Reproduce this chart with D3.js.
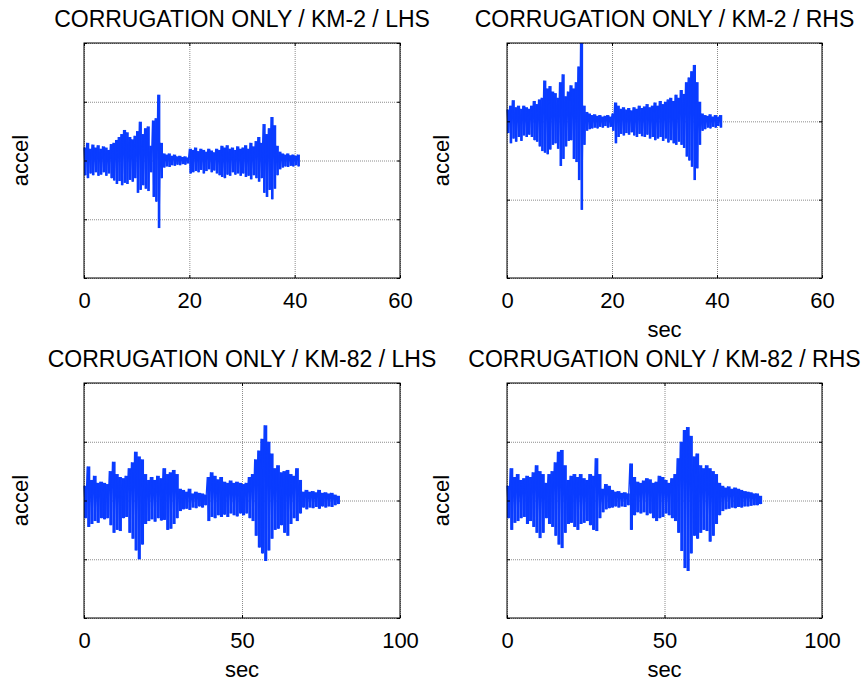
<!DOCTYPE html>
<html>
<head>
<meta charset="utf-8">
<script src="https://cdn.jsdelivr.net/npm/d3@7"></script>
<style>
	body { margin: 0; background: #fff; }
	text { font-family: Arial, "Liberation Sans", sans-serif; fill: #000; }
</style>
</head>
<body>
<script>
// Titles of the four panels
var titles = [
	'CORRUGATION ONLY / KM-2 / LHS',
	'CORRUGATION ONLY / KM-2 / RHS',
	'CORRUGATION ONLY / KM-82 / LHS',
	'CORRUGATION ONLY / KM-82 / RHS'
];

// Tick values
var xTicksKm2 = [0, 20, 40, 60];
var xTicksKm82 = [0, 50, 100];
var yTicksLhs2 = [-2, -1, 0, 1, 2];
var yTicksRhs2 = [-2, -1, 0, 1];
var yTicks82 = [-2, -1, 0, 1, 2];

// Sample step (sec) of the peak readings
var stepKm2 = 0.5;
var stepKm82 = 1;

// KM-2 / LHS, upper and lower peaks every 0.5 s (0 .. 40.5 s)
var km2LhsHi = [
	0.22, 0.3, 0.2, 0.27, 0.22, 0.26, 0.2, 0.24, 0.22, 0.18,
	0.28, 0.3, 0.35, 0.4, 0.45, 0.52, 0.48, 0.4, 0.36, 0.42,
	0.5, 0.66, 0.45, 0.55, 0.58, 0.25, 0.68, 0.72, 1.12, 0.3,
	0.12, 0.1, 0.12, 0.08, 0.1, 0.07, 0.08, 0.06, 0.07, 0.05,
	0.2, 0.18, 0.22, 0.16, 0.2, 0.18, 0.15, 0.2, 0.17, 0.14,
	0.2, 0.18, 0.25, 0.22, 0.26, 0.2, 0.22, 0.18, 0.24, 0.2,
	0.22, 0.26, 0.2, 0.3, 0.24, 0.33, 0.4, 0.3, 0.62, 0.45,
	0.55, 0.74, 0.6, 0.25, 0.15, 0.12, 0.1, 0.12, 0.09, 0.1,
	0.08, 0.1
];
var km2LhsLo = [
	-0.25, -0.3, -0.22, -0.25, -0.2, -0.26, -0.24, -0.2, -0.26, -0.22,
	-0.3, -0.34, -0.4, -0.35, -0.42, -0.38, -0.4, -0.33, -0.36, -0.3,
	-0.55, -0.5, -0.42, -0.48, -0.52, -0.2, -0.62, -0.7, -1.15, -0.3,
	-0.12, -0.1, -0.11, -0.08, -0.09, -0.07, -0.08, -0.06, -0.07, -0.05,
	-0.22, -0.2, -0.18, -0.2, -0.16, -0.22, -0.18, -0.15, -0.2, -0.17,
	-0.22, -0.25, -0.28, -0.3, -0.24, -0.26, -0.2, -0.24, -0.22, -0.26,
	-0.22, -0.28, -0.26, -0.32, -0.25, -0.3, -0.36, -0.3, -0.55, -0.62,
	-0.5, -0.66, -0.48, -0.25, -0.15, -0.12, -0.1, -0.11, -0.09, -0.1,
	-0.08, -0.1
];

// KM-2 / RHS
var km2RhsHi = [
	0.15, 0.2, 0.27, 0.18, 0.2, 0.16, 0.2, 0.18, 0.16, 0.2,
	0.26, 0.22, 0.28, 0.3, 0.52, 0.42, 0.45, 0.38, 0.36, 0.3,
	0.5, 0.6, 0.32, 0.38, 0.46, 0.42, 0.5, 0.7, 1.0, 0.2,
	0.12, 0.1, 0.08, 0.09, 0.07, 0.08, 0.06, 0.07, 0.08, 0.06,
	0.1, 0.24, 0.2, 0.16, 0.18, 0.15, 0.17, 0.14, 0.18, 0.16,
	0.2, 0.17, 0.19, 0.22, 0.18, 0.2, 0.24, 0.2, 0.26, 0.22,
	0.25, 0.28, 0.3, 0.26, 0.34, 0.3, 0.4, 0.35, 0.5, 0.56,
	0.64, 0.72, 0.5, 0.25, 0.1, 0.08, 0.07, 0.09, 0.06, 0.08,
	0.06, 0.08
];
var km2RhsLo = [
	-0.15, -0.28, -0.22, -0.26, -0.2, -0.25, -0.18, -0.2, -0.17, -0.2,
	-0.24, -0.26, -0.32, -0.38, -0.4, -0.42, -0.36, -0.3, -0.28, -0.35,
	-0.57, -0.48, -0.32, -0.25, -0.24, -0.48, -0.52, -0.75, -1.13, -0.3,
	-0.12, -0.1, -0.09, -0.08, -0.09, -0.07, -0.08, -0.06, -0.08, -0.07,
	-0.12, -0.28, -0.2, -0.16, -0.18, -0.15, -0.17, -0.14, -0.18, -0.2,
	-0.16, -0.19, -0.2, -0.17, -0.22, -0.2, -0.24, -0.22, -0.2, -0.25,
	-0.22, -0.27, -0.24, -0.28, -0.3, -0.26, -0.3, -0.34, -0.45, -0.5,
	-0.58, -0.75, -0.6, -0.3, -0.12, -0.1, -0.08, -0.09, -0.07, -0.08,
	-0.06, -0.08
];

// KM-82 / LHS, upper and lower peaks every 1 s (0 .. 80 s)
var km82LhsHi = [
	0.25, 0.58, 0.35, 0.42, 0.3, 0.32, 0.3, 0.28, 0.5, 0.66,
	0.45, 0.4, 0.38, 0.42, 0.55, 0.65, 0.83, 0.75, 0.7, 0.45,
	0.35, 0.4, 0.35, 0.42, 0.38, 0.55, 0.45, 0.48, 0.52, 0.45,
	0.2, 0.18, 0.15, 0.2, 0.12, 0.15, 0.13, 0.12, 0.1, 0.4,
	0.48, 0.42, 0.36, 0.4, 0.32, 0.3, 0.34, 0.3, 0.32, 0.3,
	0.28, 0.3, 0.4, 0.45, 0.7, 0.85, 1.05, 1.28, 1.0, 0.8,
	0.55, 0.6, 0.48, 0.5, 0.52, 0.45, 0.42, 0.55, 0.35, 0.15,
	0.18, 0.15, 0.16, 0.14, 0.18, 0.13, 0.14, 0.12, 0.13, 0.1,
	0.08
];
var km82LhsLo = [
	-0.3, -0.45, -0.4, -0.35, -0.38, -0.3, -0.32, -0.3, -0.42, -0.55,
	-0.5, -0.52, -0.3, -0.28, -0.55, -0.65, -0.85, -1.0, -0.75, -0.4,
	-0.35, -0.32, -0.36, -0.3, -0.34, -0.33, -0.5, -0.48, -0.4, -0.3,
	-0.18, -0.15, -0.14, -0.16, -0.12, -0.13, -0.1, -0.12, -0.08, -0.35,
	-0.28, -0.3, -0.25, -0.28, -0.24, -0.28, -0.22, -0.25, -0.27, -0.22,
	-0.25, -0.22, -0.3, -0.35, -0.6, -0.8, -0.9, -1.03, -0.85, -0.65,
	-0.5, -0.48, -0.42, -0.55, -0.6, -0.4, -0.3, -0.35, -0.22, -0.12,
	-0.15, -0.12, -0.13, -0.11, -0.14, -0.1, -0.12, -0.1, -0.11, -0.08,
	-0.06
];

// KM-82 / RHS
var km82RhsHi = [
	0.25, 0.55, 0.4, 0.45, 0.35, 0.38, 0.42, 0.4, 0.48, 0.6,
	0.5, 0.45, 0.3, 0.45, 0.5, 0.65, 0.83, 0.86, 0.6, 0.35,
	0.42, 0.45, 0.4, 0.45, 0.38, 0.35, 0.45, 0.42, 0.72, 0.45,
	0.2, 0.28, 0.25, 0.18, 0.15, 0.16, 0.13, 0.14, 0.12, 0.63,
	0.4, 0.32, 0.3, 0.34, 0.38, 0.36, 0.3, 0.32, 0.42, 0.4,
	0.35, 0.3, 0.38, 0.45, 0.72, 1.0, 1.2, 1.25, 1.1, 0.75,
	0.8, 0.6, 0.55, 0.6, 0.55, 0.5, 0.45, 0.3, 0.25, 0.22,
	0.24, 0.2, 0.22, 0.2, 0.18, 0.16, 0.15, 0.14, 0.12, 0.12,
	0.08
];
var km82RhsLo = [
	-0.3, -0.5, -0.38, -0.35, -0.3, -0.28, -0.4, -0.35, -0.45, -0.55,
	-0.64, -0.55, -0.3, -0.4, -0.45, -0.6, -0.75, -0.81, -0.55, -0.4,
	-0.38, -0.45, -0.5, -0.4, -0.38, -0.35, -0.42, -0.5, -0.52, -0.3,
	-0.2, -0.15, -0.13, -0.12, -0.1, -0.12, -0.1, -0.11, -0.08, -0.5,
	-0.25, -0.2, -0.22, -0.2, -0.25, -0.22, -0.3, -0.35, -0.3, -0.28,
	-0.22, -0.25, -0.3, -0.35, -0.55, -0.86, -1.15, -1.2, -0.9, -0.6,
	-0.65, -0.55, -0.5, -0.52, -0.7, -0.6, -0.4, -0.25, -0.18, -0.15,
	-0.14, -0.12, -0.13, -0.11, -0.12, -0.1, -0.1, -0.09, -0.08, -0.08,
	-0.06
];

// Panel layout
var panels = [
	{ title: titles[0], hi: km2LhsHi, lo: km2LhsLo, step: stepKm2, xTicks: xTicksKm2, yTicks: yTicksLhs2,
		left: 84, right: 400, top: 43, bottom: 278, showSec: false },
	{ title: titles[1], hi: km2RhsHi, lo: km2RhsLo, step: stepKm2, xTicks: xTicksKm2, yTicks: yTicksRhs2,
		left: 507, right: 822, top: 43, bottom: 278, showSec: true },
	{ title: titles[2], hi: km82LhsHi, lo: km82LhsLo, step: stepKm82, xTicks: xTicksKm82, yTicks: yTicks82,
		left: 84, right: 400, top: 383, bottom: 618, showSec: true },
	{ title: titles[3], hi: km82RhsHi, lo: km82RhsLo, step: stepKm82, xTicks: xTicksKm82, yTicks: yTicks82,
		left: 507, right: 822, top: 383, bottom: 618, showSec: true }
];

var svg = d3.select('body').append('svg')
	.attr('width', 863)
	.attr('height', 682);

var blue = '#0a3cff';

panels.forEach(function(p) {
	var width = p.right - p.left;
	var height = p.bottom - p.top;

	var xScale = d3.scaleLinear()
		.domain(d3.extent(p.xTicks))
		.range([0, width]);
	var yScale = d3.scaleLinear()
		.domain(d3.extent(p.yTicks))
		.range([height, 0]);

	var g = svg.append('g')
		.attr('transform', 'translate(' + p.left + ',' + p.top + ')');

	// Grid
	g.append('g')
		.attr('class', 'grid')
		.attr('transform', 'translate(0,' + height + ')')
		.call(d3.axisBottom(xScale).tickValues(p.xTicks).tickSize(-height).tickFormat(''));
	g.append('g')
		.attr('class', 'grid')
		.call(d3.axisLeft(yScale).tickValues(p.yTicks).tickSize(-width).tickFormat(''));
	g.selectAll('.grid .domain').remove();
	g.selectAll('.grid line')
		.attr('stroke', '#8c8c8c')
		.attr('stroke-width', 1)
		.attr('stroke-dasharray', '1,1');

	// Signal: min/max block per reading, then peaks joined as a trace
	g.selectAll('.peak')
		.data(p.hi)
		.enter()
		.append('rect')
			.attr('class', 'peak')
			.attr('x', function(d, i) { return xScale(i * p.step); })
			.attr('width', function() { return xScale(p.step) - xScale(0); })
			.attr('y', function(d) { return yScale(d); })
			.attr('height', function(d, i) { return yScale(p.lo[i]) - yScale(d); })
			.attr('fill', blue);

	var points = [];
	p.hi.forEach(function(v, i) {
		points.push([i * p.step, v]);
		points.push([i * p.step + p.step / 2, p.lo[i]]);
	});
	var line = d3.line()
		.x(function(d) { return xScale(d[0]); })
		.y(function(d) { return yScale(d[1]); });
	g.append('path')
		.datum(points)
		.attr('d', line)
		.attr('fill', 'none')
		.attr('stroke', blue)
		.attr('stroke-width', 1.2);

	// Axes with inward ticks
	var xAxis = d3.axisBottom(xScale)
		.tickValues(p.xTicks)
		.tickSizeInner(-3)
		.tickSizeOuter(0)
		.tickPadding(14);
	var bottomAxis = g.append('g')
		.attr('class', 'axis')
		.attr('transform', 'translate(0,' + height + ')')
		.call(xAxis);
	bottomAxis.selectAll('text')
		.style('font-size', '22px');
	g.append('g')
		.attr('class', 'axis')
		.call(d3.axisTop(xScale).tickValues(p.xTicks).tickSizeInner(-3).tickSizeOuter(0).tickFormat(''));
	g.append('g')
		.attr('class', 'axis')
		.call(d3.axisLeft(yScale).tickValues(p.yTicks).tickSizeInner(-3).tickSizeOuter(0).tickFormat(''));
	g.append('g')
		.attr('class', 'axis')
		.attr('transform', 'translate(' + width + ',0)')
		.call(d3.axisRight(yScale).tickValues(p.yTicks).tickSizeInner(-3).tickSizeOuter(0).tickFormat(''));
	g.selectAll('.axis .domain').remove();
	g.selectAll('.axis line').attr('stroke', '#000');

	// Box
	g.append('rect')
		.attr('width', width)
		.attr('height', height)
		.attr('fill', 'none')
		.attr('stroke', '#000')
		.attr('stroke-width', 1);

	// Title
	g.append('text')
		.attr('x', width / 2)
		.attr('y', -16)
		.style('text-anchor', 'middle')
		.style('font-size', '23px')
		.text(p.title);

	// Axis labels
	if (p.showSec) {
		g.append('text')
			.attr('x', width / 2)
			.attr('y', height + 59)
			.style('text-anchor', 'middle')
			.style('font-size', '22px')
			.text('sec');
	}
	g.append('text')
		.attr('transform', 'translate(' + (p.left < 200 ? -56 : -58) + ',' + (height / 2) + ') rotate(-90)')
		.style('text-anchor', 'middle')
		.style('font-size', '22px')
		.text('accel');
});
</script>
</body>
</html>
